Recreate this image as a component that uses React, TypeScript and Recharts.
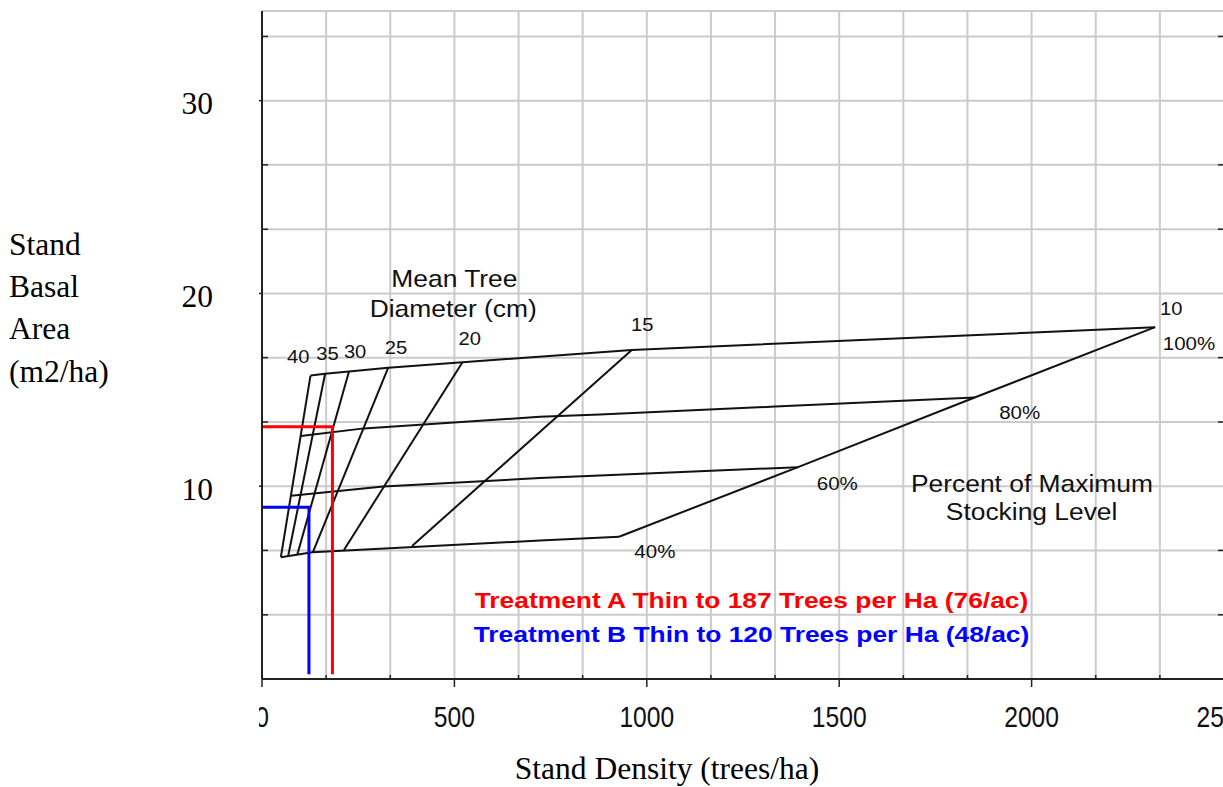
import React from "react";
import { ComposedChart, Line, Scatter, XAxis, YAxis, CartesianGrid } from "recharts";

// Stocking guide: stand density (trees/ha) vs. basal area (m2/ha)
const stock100 = [[126, 15.74], [164, 15.83], [226, 15.95], [328, 16.15], [521, 16.43], [961, 17.07], [2321, 18.25]];
const stock80 = [[101, 12.61], [265, 13.0], [722, 13.6], [878, 13.72], [1334, 14.13], [1852, 14.6]];
const stock60 = [[76, 9.5], [315, 9.98], [722, 10.42], [878, 10.55], [1393, 10.99]];
const stock40 = [[49, 6.32], [131, 6.57], [722, 7.18], [928, 7.38]];

// mean tree diameter lines, top (100%) to bottom (40%)
const dia40 = [[126, 15.74], [49, 6.32]];
const dia35 = [[164, 15.83], [68, 6.38]];
const dia30 = [[226, 15.95], [92, 6.47]];
const dia25 = [[328, 16.15], [132, 6.57]];
const dia20 = [[521, 16.43], [213, 6.69]];
const dia15 = [[961, 17.07], [390, 6.9]];
const dia10 = [[2321, 18.25], [1852, 14.6], [1393, 10.99], [928, 7.38]];

// thinning treatments (residual density, residual basal area)
const treatA = [[0, 13.08], [183, 13.08], [183, 0.25]];
const treatB = [[0, 8.91], [122, 8.91], [122, 0.25]];

const diaLabels = [["40", 94, 16.38], ["35", 170, 16.55], ["30", 242, 16.67], ["25", 348, 16.85], ["20", 540, 17.3], ["15", 988, 18.06], ["10", 2363, 18.89]];
const pctLabels = [["100%", 2409, 17.04], ["80%", 1969, 13.49], ["60%", 1495, 9.81], ["40%", 1021, 6.28]];
const noteLabels = [["Mean Tree", 500, 20.33], ["Diameter (cm)", 497, 18.8], ["Percent of Maximum", 2001, 9.72], ["Stocking Level", 2000, 8.25]];
const treatLabels = [["Treatment A Thin to 187 Trees per Ha (76/ac)", 1272, 3.7, "#ff0000"], ["Treatment B Thin to 120 Trees per Ha (48/ac)", 1272, 1.94, "#0000ff"]];

const xTicks = [0, 166.67, 333.33, 500, 666.67, 833.33, 1000, 1166.67, 1333.33, 1500, 1666.67, 1833.33, 2000, 2166.67, 2333.33, 2500];
const yTicks = [0, 3.33, 6.67, 10, 13.33, 16.67, 20, 23.33, 26.67, 30, 33.33];
const yTitle = ["Stand", "Basal", "Area", "(m2/ha)"];
const xTitle = "Stand Density (trees/ha)";

const SANS = "'Liberation Sans', Arial, Helvetica, sans-serif";
const SERIF = "'Liberation Serif', 'Times New Roman', serif";
const AXIS = "#222";
const INK = "#111";

const pts = (a: any[]) => a.map(([x, y]) => ({ x, y }));
const lbl = (a: any[]) => a.map(([text, x, y, color]) => ({ text, x, y, color }));

function XTick(props: any) {
  const { x, y, payload } = props;
  const v = payload.value;
  const major = Math.abs(v / 500 - Math.round(v / 500)) < 0.01;
  if (!major) {
    return <line x1={x} x2={x} y1={y} y2={y - 4} stroke={AXIS} strokeWidth={1.5} />;
  }
  return (
    <g>
      <defs>
        <clipPath id="x-zero-clip">
          <rect x={x - 3} y={y} width={60} height={80} />
        </clipPath>
      </defs>
      <line x1={x} x2={x} y1={y} y2={y + 8} stroke={AXIS} strokeWidth={1.5} />
      <g clipPath={v === 0 ? "url(#x-zero-clip)" : undefined}>
        <text
          transform={`translate(${x},${y + 48}) scale(0.85,1)`}
          textAnchor="middle"
          fontFamily={SANS}
          fontSize={29}
          fill="#111"
        >
          {Math.round(v)}
        </text>
      </g>
    </g>
  );
}

function YTick(props: any) {
  const { x, y, payload } = props;
  const v = payload.value;
  if (v === 0) return null;
  const major = Math.abs(v % 10) < 0.01;
  if (!major) {
    return <line x1={x} x2={x + 6} y1={y} y2={y} stroke={AXIS} strokeWidth={1.5} />;
  }
  return (
    <g>
      <line x1={x - 3} x2={x} y1={y} y2={y} stroke={AXIS} strokeWidth={1.5} />
      <text x={x - 49} y={y + 13.4} textAnchor="end" fontFamily={SERIF} fontSize={31.5} fill="#000">
        {Math.round(v)}
      </text>
    </g>
  );
}

function RightTick(props: any) {
  const { x, y, payload } = props;
  const v = payload.value;
  if (v === 0) return null;
  const major = Math.abs(v % 10) < 0.01;
  return major ? (
    <line x1={x} x2={x + 3} y1={y} y2={y} stroke={AXIS} strokeWidth={1.5} />
  ) : (
    <line x1={x - 6} x2={x} y1={y} y2={y} stroke={AXIS} strokeWidth={1.5} />
  );
}

function YTitle(props: any) {
  const vb = props.viewBox || { x: 0, y: 11 };
  return (
    <text x={vb.x + 9} y={vb.y + 244} fontFamily={SERIF} fontSize={31.5} fill="#000">
      {yTitle.map((t, i) => (
        <tspan key={t} x={vb.x + 9} dy={i === 0 ? 0 : 42.2}>
          {t}
        </tspan>
      ))}
    </text>
  );
}

function XTitle(props: any) {
  const vb = props.viewBox || { x: 262, y: 679 };
  return (
    <text x={vb.x + 405} y={vb.y + 100.3} textAnchor="middle" fontFamily={SERIF} fontSize={31.5} fill="#000">
      {xTitle}
    </text>
  );
}

const textShape = (size: number, sx: number, weight = "normal") => (p: any) => {
  const d = p.payload || {};
  return (
    <text
      transform={`translate(${p.cx},${p.cy}) scale(${sx},1)`}
      textAnchor="middle"
      fontFamily={SANS}
      fontSize={size}
      fontWeight={weight}
      fill={d.color || INK}
    >
      {d.text}
    </text>
  );
};

const blackLines = [stock100, stock80, stock60, stock40, dia40, dia35, dia30, dia25, dia20, dia15, dia10];

export default function App() {
  return (
    <div style={{ position: "fixed", left: 0, top: 0, width: 1223, height: 787, overflow: "hidden", background: "#fff" }}>
      <ComposedChart width={1240} height={787} margin={{ top: 11, right: 0, bottom: 0, left: 0 }}>
        <CartesianGrid stroke="#cbcbcb" strokeWidth={2} />
        <XAxis
          type="number"
          dataKey="x"
          domain={[0, 2500]}
          ticks={xTicks}
          interval={0}
          allowDataOverflow
          height={108}
          tickSize={0}
          tickMargin={0}
          tickLine={false}
          tick={<XTick />}
          axisLine={{ stroke: AXIS, strokeWidth: 2 }}
          label={XTitle}
        />
        <YAxis
          type="number"
          dataKey="y"
          domain={[0, 34.65]}
          ticks={yTicks}
          interval={0}
          allowDataOverflow
          width={262}
          tickSize={0}
          tickMargin={0}
          tickLine={false}
          tick={<YTick />}
          axisLine={{ stroke: AXIS, strokeWidth: 2 }}
          label={YTitle}
        />
        <YAxis
          yAxisId="right"
          orientation="right"
          type="number"
          dataKey="y"
          domain={[0, 34.65]}
          ticks={yTicks}
          interval={0}
          allowDataOverflow
          width={16}
          tickSize={0}
          tickMargin={0}
          tickLine={false}
          tick={<RightTick />}
          axisLine={{ stroke: AXIS, strokeWidth: 2 }}
        />
        {blackLines.map((l, i) => (
          <Line
            key={i}
            data={pts(l)}
            dataKey="y"
            type="linear"
            stroke={INK}
            strokeWidth={2}
            dot={false}
            activeDot={false}
            isAnimationActive={false}
          />
        ))}
        <Line data={pts(treatA)} dataKey="y" type="linear" stroke="#ff0000" strokeWidth={3} dot={false} activeDot={false} isAnimationActive={false} />
        <Line data={pts(treatB)} dataKey="y" type="linear" stroke="#0000ff" strokeWidth={3} dot={false} activeDot={false} isAnimationActive={false} />
        <Scatter data={lbl(diaLabels)} dataKey="y" shape={textShape(18, 1.12)} isAnimationActive={false} />
        <Scatter data={lbl(pctLabels)} dataKey="y" shape={textShape(19, 1.08)} isAnimationActive={false} />
        <Scatter data={lbl(noteLabels)} dataKey="y" shape={textShape(24, 1.1)} isAnimationActive={false} />
        <Scatter data={lbl(treatLabels)} dataKey="y" shape={textShape(22, 1.2, "bold")} isAnimationActive={false} />
      </ComposedChart>
    </div>
  );
}
